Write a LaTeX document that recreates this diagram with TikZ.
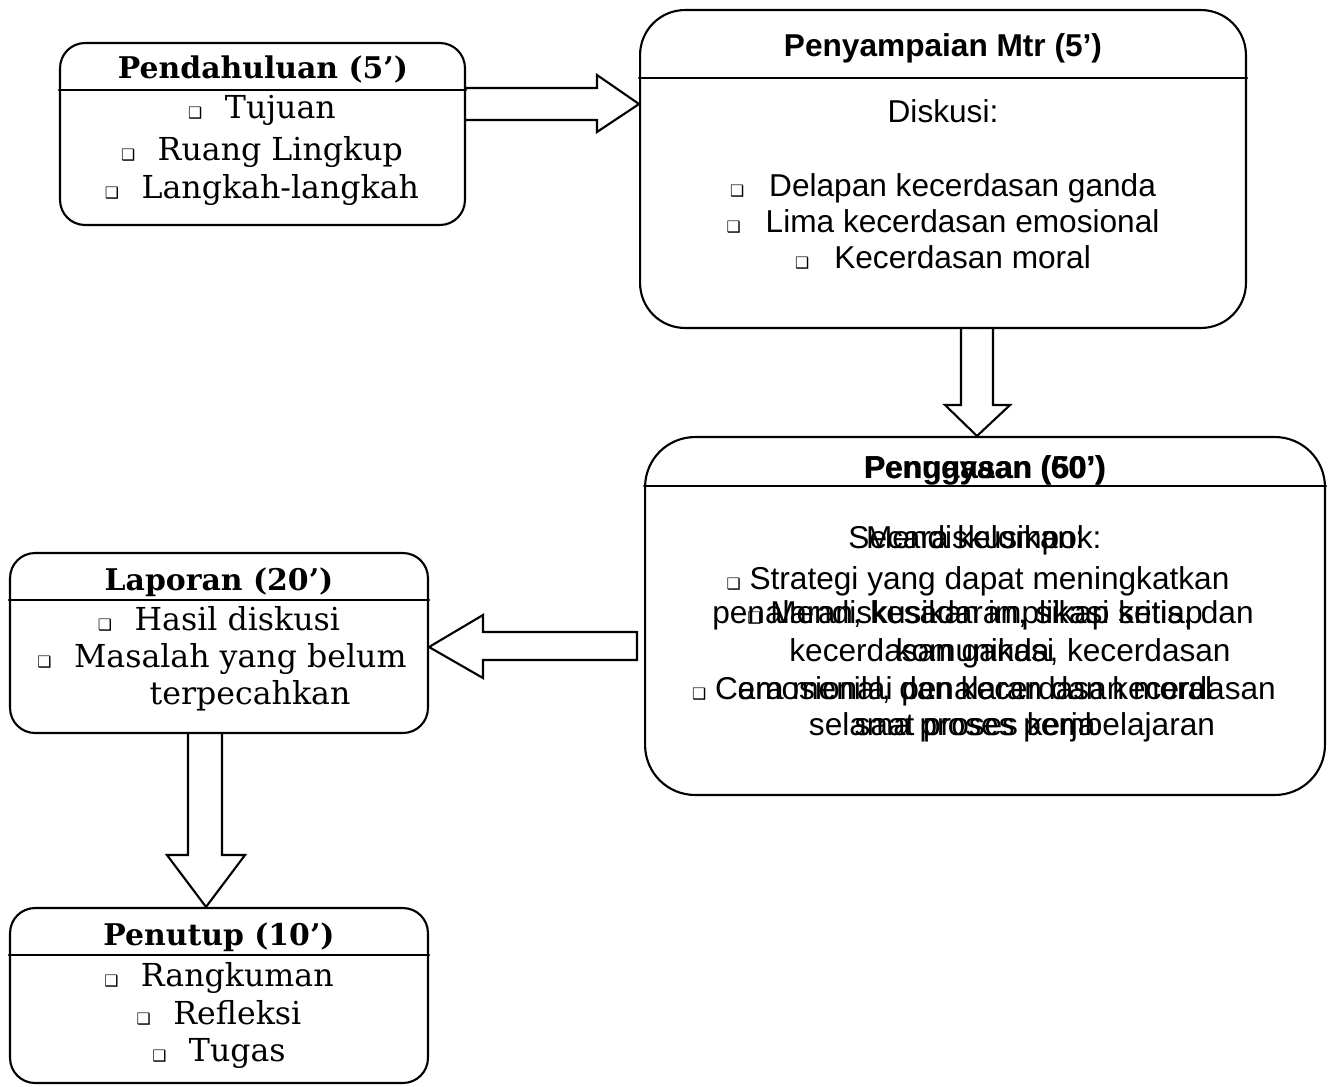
\documentclass[tikz,border=0pt]{standalone}
\usepackage{fontspec}
\setmainfont{DejaVu Serif}
\setsansfont{Liberation Sans}
\newfontfamily\symfont{DejaVu Sans}
\usetikzlibrary{calc}
\newcommand{\bx}{{\symfont\fontsize{9}{9}\selectfont ❑}}
\begin{document}
\begin{tikzpicture}[x=0.02cm, y=-0.02cm, line join=round, line cap=round]
	\tikzset{
		box/.style={draw, line width=1.2pt, inner sep=0pt},
		hline/.style={line width=1.2pt},
		barrow/.style={draw, line width=1.2pt, line join=miter},
		stitle/.style={font=\fontsize{17}{20}\selectfont\bfseries, anchor=base},
		sitem/.style={font=\fontsize{18}{21}\selectfont, anchor=base},
		atitle/.style={font=\sffamily\fontsize{18}{21}\selectfont\bfseries, anchor=base},
		aitem/.style={font=\sffamily\fontsize{18}{21}\selectfont, anchor=base}
	}
	\useasboundingbox (0,0) rectangle (1334,1086);
	% kotak
	\node[box, rounded corners=0.5cm, minimum width=8.1cm, minimum height=3.64cm] (pend) at (262.5,134) {};
	\node[box, rounded corners=0.9cm, minimum width=12.12cm, minimum height=6.36cm] (mtr) at (943,169) {};
	\node[box, rounded corners=1cm, minimum width=13.6cm, minimum height=7.16cm] (tugas) at (985,616) {};
	\node[box, rounded corners=0.5cm, minimum width=8.36cm, minimum height=3.6cm] (lapor) at (219,643) {};
	\node[box, rounded corners=0.5cm, minimum width=8.36cm, minimum height=3.5cm] (tutup) at (219,995.5) {};
	% garis judul
	\draw[hline] (pend.west |- 0,90) -- (pend.east |- 0,90);
	\draw[hline] (mtr.west |- 0,78) -- (mtr.east |- 0,78);
	\draw[hline] (tugas.west |- 0,486) -- (tugas.east |- 0,486);
	\draw[hline] (lapor.west |- 0,600) -- (lapor.east |- 0,600);
	\draw[hline] (tutup.west |- 0,955) -- (tutup.east |- 0,955);
	% judul
	\node[stitle] (pend-t) at (263,78) {Pendahuluan (5’)};
	\node[atitle] (mtr-t) at (943,56) {Penyampaian Mtr (5’)};
	\node[atitle] (tugas-t) at (985,478) {Penugasan (50’)};
	\node[atitle] (tugas-tb) at (985,478) {Pengayaan (60’)};
	\node[stitle] (lapor-t) at (219,590) {Laporan (20’)};
	\node[stitle] (tutup-t) at (219,945) {Penutup (10’)};
	% isi
	\foreach \y/\t [count=\i] in {118/Tujuan, 160/Ruang Lingkup, 198/Langkah-langkah}
		\node[sitem] (pend-\i) at (262,\y) {\bx\hspace{0.45cm}\t};
	\node[aitem] (mtr-0) at (943,122) {Diskusi:};
	\foreach \y/\t [count=\i] in {196/Delapan kecerdasan ganda, 232/Lima kecerdasan emosional, 268/Kecerdasan moral}
		\node[aitem] (mtr-\i) at (943,\y) {\bx\hspace{0.5cm}\t};
	\foreach \x/\y/\t [count=\i] in {975/548/Secara kelompok:, 978/589/\bx\ Strategi yang dapat meningkatkan,
		983/623/{penalaran, kesadaran, sikap kritis, dan}, 1010/661/{kecerdasan ganda, kecerdasan},
		984/699/\bx\ Cara menilai penalaran dan kecerdasan, 1012/735/selama proses pembelajaran}
		\node[aitem] (tugas-\i) at (\x,\y) {\t};
	\foreach \y/\t [count=\i] in {548/Mendiskusikan:, 623/\bx\ Mendiskusikan implikasi setiap,
		661/komunikasi, 699/{emosional, dan kecerdasan moral}, 735/saat proses kerja}
		\node[aitem] (tugas-b\i) at (975,\y) {\t};
	\node[sitem] (lapor-1) at (219,630) {\bx\hspace{0.45cm}Hasil diskusi};
	\node[sitem] (lapor-2) at (222,667) {\bx\hspace{0.45cm}Masalah yang belum};
	\node[sitem] (lapor-3) at (250,704) {terpecahkan};
	\foreach \y/\t [count=\i] in {986/Rangkuman, 1024/Refleksi, 1061/Tugas}
		\node[sitem] (tutup-\i) at (219,\y) {\bx\hspace{0.45cm}\t};
	% panah blok
	\draw[barrow] (pend.east |- 0,88) -- (597,88) -- (597,75) -- (mtr.west |- 0,104)
		-- (597,132) -- (597,120) -- (pend.east |- 0,120);
	\draw[barrow] (961,0 |- mtr.south) -- (961,405) -- (945,405) -- (977,0 |- tugas.north)
		-- (1010,405) -- (993,405) -- (993,0 |- mtr.south);
	\draw[barrow] (637,632) -- (483,632) -- (483,615) -- (lapor.east |- 0,647)
		-- (483,678) -- (483,660) -- (637,660) -- cycle;
	\draw[barrow] (188,0 |- lapor.south) -- (188,855) -- (167,855) -- (206,0 |- tutup.north)
		-- (245,855) -- (222,855) -- (222,0 |- lapor.south);
\end{tikzpicture}
\end{document}
